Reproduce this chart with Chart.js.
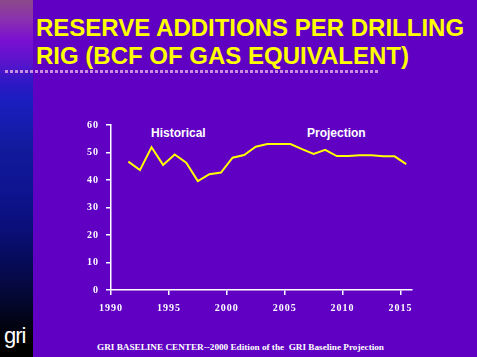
<!DOCTYPE html>
<html>
<head>
<meta charset="utf-8">
<script src="https://cdn.jsdelivr.net/npm/chart.js@4/dist/chart.umd.min.js"></script>
<style>
  html, body { margin:0; padding:0; }
  body { width:477px; height:357px; background:#6000c3; position:relative; overflow:hidden; font-family:"Liberation Sans", Arial, sans-serif; }
  #strip { position:absolute; left:0; top:0; width:33px; height:357px;
    background: linear-gradient(to bottom, #8c4a8a 0px, #8a30b0 20px, #7a10d0 40px, #5a14cc 62px, #2a18c4 85px, #1a1ec0 100px, #121a9c 150px, #0e1490 190px, #0a0e78 230px, #060a50 270px, #040830 300px, #020418 320px, #000000 340px, #000 357px); }
  #dots { position:absolute; left:5px; top:70px; width:374px; height:3px;
    background: repeating-linear-gradient(to right, #c88ee0 0px, #c88ee0 3px, transparent 3px, transparent 5px); }
  .title { position:absolute; left:36px; color:#ffff00; font-weight:bold; font-size:24px; line-height:28px; white-space:nowrap; }
  .lbl { position:absolute; color:#ffffff; font-weight:bold; font-size:12px; line-height:12px; white-space:nowrap; }
  #footer { position:absolute; left:97px; top:342px; color:#fff; font-family:"Liberation Serif","Times New Roman",serif; font-weight:bold; font-size:9.2px; line-height:10px; white-space:pre; }
  #logo { position:absolute; left:4px; top:324px; color:#fff; font-size:22px; line-height:24px; font-family:"Liberation Sans Narrow","Liberation Sans",Arial,sans-serif; letter-spacing:-1px; }
  canvas { position:absolute; left:0; top:0; }
</style>
</head>
<body>
<div id="strip"></div>
<div id="dots"></div>
<div class="title" style="top:14px;">RESERVE ADDITIONS PER DRILLING</div>
<div class="title" style="top:42px;">RIG (BCF OF GAS EQUIVALENT)</div>
<div class="lbl" style="left:151px; top:127px;">Historical</div>
<div class="lbl" style="left:307px; top:127px;">Projection</div>
<div id="footer">GRI BASELINE CENTER--2000 Edition of the  GRI Baseline Projection</div>
<div id="logo">gri</div>
<canvas id="c" width="477" height="357"></canvas>
<script>
const years = [1991,1992,1993,1994,1995,1996,1997,1998,1999,2000,2001,2002,2003,2004,2005,2006,2007,2008,2009,2010,2011,2012,2013,2014,2015];
const reserves = [46.7,43.6,51.9,45.5,49.3,46.3,39.6,42.1,42.7,48.1,49.1,52.1,53.1,53.1,53.1,51.2,49.5,51.0,48.7,48.7,49.0,49.0,48.6,48.6,45.8];
const xTickLabels = [1990,1995,2000,2005,2010,2015];
const yTickValues = [0,10,20,30,40,50,60];

// points sit at the centre of each year's category slot
const points = years.map((y,i) => ({x: y + 0.5, y: reserves[i]}));

const spacing = {
  id: 'spacing',
  beforeDraw(chart){ chart.ctx.letterSpacing = '1px'; }
};

new Chart(document.getElementById('c'), {
  type: 'line',
  data: { datasets: [{ data: points, borderColor: '#ffff00', borderWidth: 2, pointRadius: 0, tension: 0, fill: false }] },
  options: {
    responsive: false,
    animation: false,
    events: [],
    plugins: { legend: { display:false }, tooltip: { enabled:false } },
    layout: { padding: { left:0, right:65, top:125, bottom:37 } },
    scales: {
      x: {
        type: 'linear', min: 1990, max: 2016,
        afterBuildTicks(s){ s.ticks = xTickLabels.map(v => ({value:v})); },
        afterFit(s){ s.height = 30; },
        border: { color:'#ffffff', width:1.5 },
        grid: { drawOnChartArea:false, color:'#ffffff', tickLength:5, lineWidth:1.5 },
        ticks: { color:'#ffffff', padding:7, maxRotation:0, autoSkip:false,
          font: { family:'"Liberation Serif","Times New Roman",serif', weight:'bold', size:10 },
          callback: v => String(v) }
      },
      y: {
        min: 0, max: 60,
        afterBuildTicks(s){ s.ticks = yTickValues.map(v => ({value:v})); },
        afterFit(s){ s.width = 111; },
        border: { color:'#ffffff', width:1.5 },
        grid: { drawOnChartArea:false, color:'#ffffff', tickLength:5, lineWidth:1.5 },
        ticks: { color:'#ffffff', padding:7,
          font: { family:'"Liberation Serif","Times New Roman",serif', weight:'bold', size:10 } }
      }
    }
  },
  plugins: [spacing]
});
</script>
</body>
</html>
